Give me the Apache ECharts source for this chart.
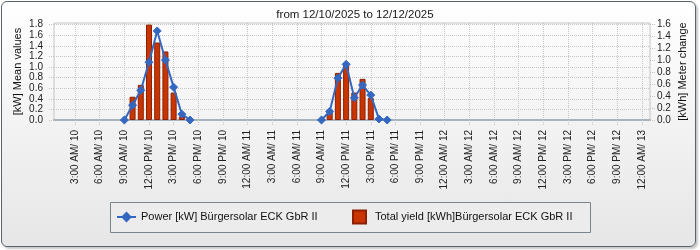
<!DOCTYPE html>
<html>
<head>
<meta charset="utf-8">
<script src="https://cdn.jsdelivr.net/npm/echarts@6/dist/echarts.min.js"></script>
<style>
  html, body { margin: 0; padding: 0; background: #ffffff; }
  #wrap { position: relative; width: 700px; height: 250px; overflow: hidden; }
  #frame { position: absolute; left: 1px; top: 1px; width: 693px; height: 244px;
    border: 1px solid #59636e; border-radius: 6px;
    background: linear-gradient(to bottom, #ffffff 0%, #f4f4f4 45%, #e6e6e6 100%);
    box-shadow: 2px 2px 2px rgba(0,0,0,0.22); }
  #chart { position: absolute; left: 0; top: 0; width: 700px; height: 250px; }
</style>
</head>
<body>
<div id="wrap">
  <div id="frame"></div>
  <div id="chart"></div>
</div>
<script>
// ---- data ----
const titleText = 'from 12/10/2025 to 12/12/2025';
const startTime = '2025-12-10T00:00:00';
const powerName = 'Power [kW] Bürgersolar ECK GbR II';
const yieldName = 'Total yield [kWh]Bürgersolar ECK GbR II';
const leftAxisName = '[kW] Mean values';
const rightAxisName = '[kWh] Meter change';

const powerTimes = [
  '2025-12-10T09:00:00','2025-12-10T10:00:00','2025-12-10T11:00:00','2025-12-10T12:00:00','2025-12-10T13:00:00',
  '2025-12-10T14:00:00','2025-12-10T15:00:00','2025-12-10T16:00:00','2025-12-10T17:00:00',
  '2025-12-11T09:00:00','2025-12-11T10:00:00','2025-12-11T11:00:00','2025-12-11T12:00:00','2025-12-11T13:00:00',
  '2025-12-11T14:00:00','2025-12-11T15:00:00','2025-12-11T16:00:00','2025-12-11T17:00:00'
];
const powerValues = [0, 0.28, 0.56, 1.09, 1.68, 1.13, 0.62, 0.11, 0,
                     0, 0.16, 0.79, 1.05, 0.42, 0.66, 0.47, 0.02, 0];

const yieldTimes = [
  '2025-12-10T10:00:00','2025-12-10T11:00:00','2025-12-10T12:00:00','2025-12-10T13:00:00',
  '2025-12-10T14:00:00','2025-12-10T15:00:00','2025-12-10T16:00:00',
  '2025-12-11T10:00:00','2025-12-11T11:00:00','2025-12-11T12:00:00','2025-12-11T13:00:00',
  '2025-12-11T14:00:00','2025-12-11T15:00:00','2025-12-11T16:00:00'
];
const yieldValues = [0.39, 0.59, 1.60, 1.30, 1.15, 0.46, 0.06,
                     0.14, 0.79, 0.95, 0.46, 0.69, 0.37, 0.03];

const xTickHours = [3,6,9,12,15,18,21,24,27,30,33,36,39,42,45,48,51,54,57,60,63,66,69,72];
const xTickLabels = [
  '3:00 AM/ 10','6:00 AM/ 10','9:00 AM/ 10','12:00 PM/ 10','3:00 PM/ 10','6:00 PM/ 10','9:00 PM/ 10',
  '12:00 AM/ 11','3:00 AM/ 11','6:00 AM/ 11','9:00 AM/ 11','12:00 PM/ 11','3:00 PM/ 11','6:00 PM/ 11','9:00 PM/ 11',
  '12:00 AM/ 12','3:00 AM/ 12','6:00 AM/ 12','9:00 AM/ 12','12:00 PM/ 12','3:00 PM/ 12','6:00 PM/ 12','9:00 PM/ 12',
  '12:00 AM/ 13'
];
const leftTicks = [0, 0.2, 0.4, 0.6, 0.8, 1.0, 1.2, 1.4, 1.6, 1.8];
const rightTicks = [0, 0.2, 0.4, 0.6, 0.8, 1.0, 1.2, 1.4, 1.6];

// ---- build ----
const t0 = new Date(startTime).getTime();
const toH = t => (new Date(t).getTime() - t0) / 3600000;

const powerData = [];
powerTimes.forEach((t, i) => {
  const h = toH(t);
  if (i > 0 && h - toH(powerTimes[i - 1]) > 3) powerData.push([h - 1, null]);
  powerData.push([h, powerValues[i]]);
});
const yieldData = yieldTimes.map((t, i) => [toH(t), yieldValues[i]]);

const FONT = 'Liberation Sans';
const GRID = '#c6c6c6';

const chart = echarts.init(document.getElementById('chart'), null, { renderer: 'canvas' });
chart.setOption({
  backgroundColor: 'transparent',
  animation: false,
  textStyle: { fontFamily: FONT },
  title: {
    text: titleText, left: 350, top: 4, textAlign: 'center',
    textStyle: { fontSize: 11.5, fontWeight: 'normal', color: '#1a1a1a', fontFamily: FONT }
  },
  grid: { left: 54, right: 50, top: 23, bottom: 130, show: true, borderColor: '#c4c4c4', borderWidth: 1, backgroundColor: 'transparent' },
  graphic: [{
    type: 'rect', z: 0, silent: true,
    shape: { x: 110.5, y: 202.5, width: 480, height: 30 },
    style: { fill: '#ececec', stroke: '#7a848e', lineWidth: 1 }
  }],
  legend: [{
    left: 116, top: 211.5, padding: 0, itemWidth: 19, itemHeight: 10, data: [powerName],
    textStyle: { fontSize: 11, color: '#111', fontFamily: FONT }
  }, {
    left: 352, top: 209.5, padding: 0, itemWidth: 13, itemHeight: 13, data: [{ name: yieldName, icon: 'rect' }],
    textStyle: { fontSize: 11, color: '#111', fontFamily: FONT, padding: [0, 0, 0, 4] }
  }],
  xAxis: {
    type: 'value', min: toH('2025-12-10T00:26:00'), max: toH('2025-12-13T01:00:00'),
    axisLine: { show: true, lineStyle: { color: '#aab2ba', width: 2 } },
    axisTick: { show: true, customValues: xTickHours, length: 5, lineStyle: { color: GRID, type: 'dotted' } },
    splitLine: { show: true, lineStyle: { color: GRID, type: 'dotted' } },
    axisLabel: {
      customValues: xTickHours, rotate: 90, margin: 10, fontSize: 10, color: '#222',
      formatter: v => { const i = xTickHours.indexOf(Math.round(v)); return i >= 0 ? xTickLabels[i] : ''; }
    }
  },
  yAxis: [{
    type: 'value', min: 0, max: 1.83, position: 'left',
    name: leftAxisName, nameLocation: 'middle', nameGap: 31, nameRotate: 90, nameMoveOverlap: false,
    nameTextStyle: { fontSize: 11, color: '#111', fontFamily: FONT },
    axisLine: { show: false },
    axisTick: { show: true, customValues: leftTicks, length: 5, lineStyle: { color: GRID, type: 'dotted' } },
    splitLine: { show: true, lineStyle: { color: GRID, type: 'dotted' } },
    axisLabel: { customValues: leftTicks, margin: 11, fontSize: 10, color: '#222', formatter: v => v.toFixed(1) }
  }, {
    type: 'value', min: 0, max: 1.627, position: 'right',
    name: rightAxisName, nameLocation: 'middle', nameGap: 27, nameRotate: 90, nameMoveOverlap: false,
    nameTextStyle: { fontSize: 11, color: '#111', fontFamily: FONT },
    axisLine: { show: false },
    axisTick: { show: true, customValues: rightTicks, length: 5, lineStyle: { color: GRID, type: 'dotted' } },
    splitLine: { show: false },
    axisLabel: { customValues: rightTicks, margin: 7, fontSize: 10, color: '#222', formatter: v => v.toFixed(1) }
  }],
  series: [{
    name: yieldName, type: 'bar', yAxisIndex: 1, data: yieldData, barWidth: 6, z: 2,
    itemStyle: { color: '#c83500', borderColor: '#8e1f00', borderWidth: 1 }
  }, {
    name: powerName, type: 'line', yAxisIndex: 0, data: powerData, connectNulls: false, z: 3,
    symbol: 'diamond', symbolSize: 8, showAllSymbol: true,
    lineStyle: { color: '#3467c0', width: 2 },
    itemStyle: { color: '#3467c0', borderColor: '#3467c0', borderWidth: 1 }
  }]
});
</script>
</body>
</html>
